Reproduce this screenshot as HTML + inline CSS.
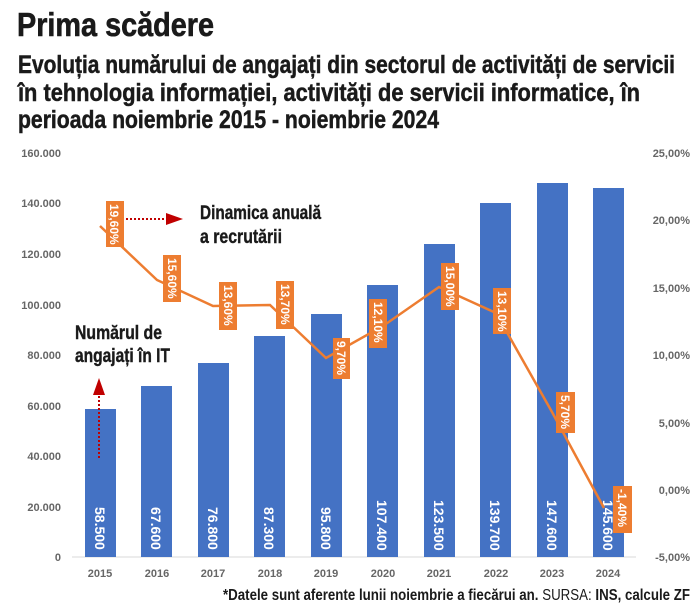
<!DOCTYPE html>
<html><head><meta charset="utf-8"><style>body{margin:0;background:#fff}svg{display:block}</style></head><body>
<svg width="699" height="616" viewBox="0 0 699 616" xmlns="http://www.w3.org/2000/svg" font-family="Liberation Sans, sans-serif">
<text x="17" y="36" font-size="33" font-weight="bold" fill="#1a1a1a" stroke="#1a1a1a" stroke-width="0.6" textLength="197" lengthAdjust="spacingAndGlyphs">Prima scădere</text>
<g font-size="25" font-weight="bold" fill="#1a1a1a" stroke="#1a1a1a" stroke-width="0.5">
<text x="18" y="73" textLength="657" lengthAdjust="spacingAndGlyphs">Evoluția numărului de angajați din sectorul de activități de servicii</text>
<text x="18" y="101" textLength="622" lengthAdjust="spacingAndGlyphs">în tehnologia informației, activități de servicii informatice, în</text>
<text x="18" y="128" textLength="421" lengthAdjust="spacingAndGlyphs">perioada noiembrie 2015 - noiembrie 2024</text>
</g>
<g font-size="11" font-weight="bold" fill="#666" text-anchor="end">
<text x="61" y="157">160.000</text><text x="61" y="207">140.000</text><text x="61" y="258">120.000</text><text x="61" y="309">100.000</text><text x="61" y="359">80.000</text><text x="61" y="410">60.000</text><text x="61" y="460">40.000</text><text x="61" y="511">20.000</text><text x="61" y="561">0</text>
</g>
<g font-size="11" font-weight="bold" fill="#666" text-anchor="end">
<text x="690" y="157">25,00%</text><text x="690" y="224">20,00%</text><text x="690" y="292">15,00%</text><text x="690" y="359">10,00%</text><text x="690" y="427">5,00%</text><text x="690" y="494">0,00%</text><text x="690" y="561">-5,00%</text>
</g>
<line x1="72" y1="557" x2="636" y2="557" stroke="#d9d9d9" stroke-width="1"/>
<g fill="#4472C4">
<rect x="85" y="409" width="31" height="148"/>
<rect x="141" y="386" width="31" height="171"/>
<rect x="198" y="363" width="31" height="194"/>
<rect x="254" y="336" width="31" height="221"/>
<rect x="311" y="314" width="31" height="243"/>
<rect x="367" y="285" width="31" height="272"/>
<rect x="424" y="244" width="31" height="313"/>
<rect x="480" y="203" width="31" height="354"/>
<rect x="537" y="183" width="31" height="374"/>
<rect x="593" y="188" width="31" height="369"/>
</g>
<g font-size="14" font-weight="bold" fill="#fff">
<text transform="translate(95,507) rotate(90)">58.500</text>
<text transform="translate(151,507) rotate(90)">67.600</text>
<text transform="translate(208,507) rotate(90)">76.800</text>
<text transform="translate(264,507) rotate(90)">87.300</text>
<text transform="translate(321,507) rotate(90)">95.800</text>
<text transform="translate(377,500) rotate(90)">107.400</text>
<text transform="translate(434,500) rotate(90)">123.500</text>
<text transform="translate(490,500) rotate(90)">139.700</text>
<text transform="translate(547,500) rotate(90)">147.600</text>
<text transform="translate(603,500) rotate(90)">145.600</text>
</g>
<g font-size="11" font-weight="bold" fill="#666" text-anchor="middle">
<text x="100" y="577">2015</text><text x="157" y="577">2016</text><text x="213" y="577">2017</text><text x="270" y="577">2018</text><text x="326" y="577">2019</text><text x="383" y="577">2020</text><text x="439" y="577">2021</text><text x="496" y="577">2022</text><text x="552" y="577">2023</text><text x="608" y="577">2024</text>
</g>
<polyline fill="none" stroke="#ED7D31" stroke-width="2.5" points="100,226 157,280 213,306 270,305 326,358 383,326 439,287 496,313 552,412 604,508"/>
<g fill="#ED7D31">
<rect x="106" y="201" width="18" height="46"/>
<rect x="163" y="255" width="18" height="47"/>
<rect x="219" y="282" width="18" height="48"/>
<rect x="276" y="281" width="18" height="48"/>
<rect x="333" y="338" width="17" height="41"/>
<rect x="369" y="299" width="18" height="49"/>
<rect x="441" y="263" width="18" height="47"/>
<rect x="493" y="288" width="18" height="46"/>
<rect x="556" y="392" width="19" height="41"/>
<rect x="613" y="486" width="19" height="47"/>
</g>
<g font-size="12" font-weight="bold" fill="#fff">
<text transform="translate(110,204) rotate(90)">19,60%</text>
<text transform="translate(168,258) rotate(90)">15,60%</text>
<text transform="translate(224,285) rotate(90)">13,60%</text>
<text transform="translate(281,284) rotate(90)">13,70%</text>
<text transform="translate(337,341) rotate(90)">9,70%</text>
<text transform="translate(374,302) rotate(90)">12,10%</text>
<text transform="translate(446,266) rotate(90)">15,00%</text>
<text transform="translate(498,291) rotate(90)">13,10%</text>
<text transform="translate(561,395) rotate(90)">5,70%</text>
<text transform="translate(618,489) rotate(90)">-1,40%</text>
</g>
<line x1="126" y1="219" x2="170" y2="219" stroke="#c00000" stroke-width="2" stroke-dasharray="2,2"/>
<polygon points="166,213 183,219 166,225" fill="#c00000"/>
<line x1="99" y1="458" x2="99" y2="392" stroke="#c00000" stroke-width="2" stroke-dasharray="2,2"/>
<polygon points="93,395 99,378 105,395" fill="#c00000"/>
<g font-size="19" font-weight="bold" fill="#1a1a1a" stroke="#1a1a1a" stroke-width="0.4">
<text x="200" y="219" textLength="121" lengthAdjust="spacingAndGlyphs">Dinamica anuală</text>
<text x="200" y="243" textLength="82" lengthAdjust="spacingAndGlyphs">a recrutării</text>
<text x="75" y="339" textLength="87" lengthAdjust="spacingAndGlyphs">Numărul de</text>
<text x="75" y="362" textLength="95" lengthAdjust="spacingAndGlyphs">angajați în IT</text>
</g>
<text x="690" y="600" font-size="16" font-weight="bold" fill="#1a1a1a" text-anchor="end" textLength="467" lengthAdjust="spacingAndGlyphs">*Datele sunt aferente lunii noiembrie a fiecărui an. <tspan font-weight="normal">SURSA:</tspan> INS, calcule ZF</text>
</svg>
</body></html>
